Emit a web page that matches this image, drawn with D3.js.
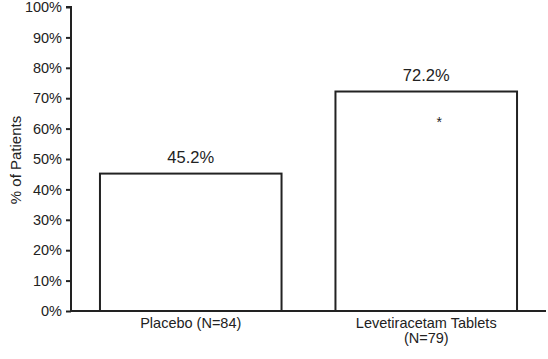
<!DOCTYPE html>
<html>
<head>
<meta charset="utf-8">
<script src="https://cdn.jsdelivr.net/npm/d3@7"></script>
<style>
  html, body { margin: 0; padding: 0; background: #fff; }
  svg { display: block; }
  text { font-family: "Liberation Sans", Arial, Helvetica, sans-serif; fill: #222; }
</style>
</head>
<body>
<svg id="chart" width="548" height="359"></svg>
<script>
const categories = ["Placebo (N=84)", "Levetiracetam Tablets|(N=79)"];
const values = [45.2, 72.2];
const valueLabels = ["45.2%", "72.2%"];
const significance = ["", "*"];
const yTicks = [0, 10, 20, 30, 40, 50, 60, 70, 80, 90, 100];
const yTitle = "% of Patients";

const svg = d3.select("#chart");
const x0 = 71, x1 = 546, yBottom = 311, yTop = 7;

const x = d3.scaleBand().domain(categories).range([x0, x1])
  .paddingInner(0.229).paddingOuter(0.123);
const y = d3.scaleLinear().domain([0, 100]).range([yBottom, yTop]);

// bars
svg.selectAll("rect.bar").data(categories).enter().append("rect")
  .attr("class", "bar")
  .attr("x", d => x(d))
  .attr("y", (d, i) => y(values[i]))
  .attr("width", x.bandwidth())
  .attr("height", (d, i) => y(0) - y(values[i]))
  .attr("fill", "#fff").attr("stroke", "#222").attr("stroke-width", 2);

// value labels
svg.selectAll("text.val").data(categories).enter().append("text")
  .attr("class", "val")
  .attr("x", d => x(d) + x.bandwidth() / 2)
  .attr("y", (d, i) => y(values[i]) - 11)
  .attr("text-anchor", "middle")
  .style("font-size", "16.5px")
  .text((d, i) => valueLabels[i]);

// significance marks
svg.selectAll("text.sig").data(categories).enter().append("text")
  .attr("class", "sig")
  .attr("x", d => x(d) + x.bandwidth() / 2 + 13)
  .attr("y", (d, i) => y(values[i]) + 35)
  .attr("text-anchor", "middle")
  .style("font-size", "14px")
  .text((d, i) => significance[i]);

// y axis
const yAxis = d3.axisLeft(y).tickValues(yTicks).tickFormat(d => d + "%").tickSize(5).tickPadding(4);
const gy = svg.append("g").attr("transform", `translate(${x0},0)`).call(yAxis);
gy.select(".domain").attr("stroke", "#222").attr("stroke-width", 2).attr("d", `M-5,${yTop}H0V${yBottom}`);
gy.selectAll(".tick line").attr("stroke", "#222").attr("stroke-width", 2);
gy.selectAll(".tick text").style("font-size", "14.5px").style("font-family", '"Liberation Sans", Arial, sans-serif').attr("fill", "#222");

// x axis
const xAxis = d3.axisBottom(x).tickSize(0).tickPadding(0).tickFormat("");
const gx = svg.append("g").attr("transform", `translate(0,${yBottom})`).call(xAxis);
gx.select(".domain").attr("stroke", "#222").attr("stroke-width", 2).attr("d", `M${x0},0H${x1}`);
gx.selectAll(".tick").each(function(d) {
  const lines = d.split("|");
  const t = d3.select(this).append("text")
    .attr("text-anchor", "middle")
    .style("font-size", "14.5px")
    .attr("fill", "#222");
  lines.forEach((ln, i) => {
    t.append("tspan").attr("x", 0).attr("y", 17 + i * 15).text(ln);
  });
});

// y title
svg.append("text")
  .attr("transform", `translate(21,160) rotate(-90)`)
  .attr("text-anchor", "middle")
  .style("font-size", "15px")
  .text(yTitle);
</script>
</body>
</html>
